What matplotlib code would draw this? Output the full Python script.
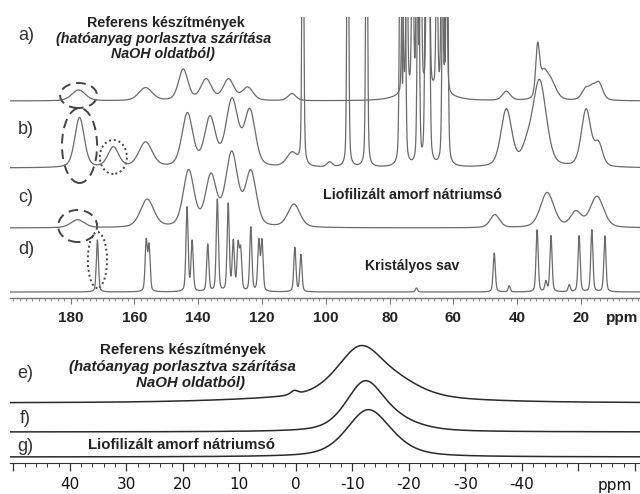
import numpy as np
import matplotlib
matplotlib.use("Agg")
import matplotlib.pyplot as plt
from matplotlib.patches import Ellipse
from matplotlib.ticker import MultipleLocator, FuncFormatter

plt.rcParams['axes.unicode_minus'] = False

# ---------------------------------------------------------------------------
# 13C CP/MAS spectra: peak tables (centre in ppm, height, full width at half height in ppm)
# ---------------------------------------------------------------------------
A_PPM = [177.5, 156.5, 144.7, 137.5, 130.5, 124.5, 110.6,
         76.0, 74.6, 72.8, 71.4, 70.2, 68.3, 67.5, 65.2, 63.6, 62.2, 69.0,
         43.4, 33.6, 31.8, 29.5, 18.4, 16.5, 14.5]
A_HEIGHT = [11, 13, 31, 21, 21, 13, 7,
            120, 180, 220, 200, 170, 200, 120, 160, 220, 180, 12,
            9, 48, 22, 18, 12, 7, 18]
A_WIDTH = [5, 5, 3.5, 4, 4, 4, 3,
           0.6, 0.6, 0.6, 0.6, 0.6, 0.6, 0.6, 0.6, 0.6, 0.6, 14,
           3, 1.4, 3, 4, 3, 2, 3]

B_PPM = [177.2, 166.6, 156.5, 143.4, 136.3, 129.4, 123.8, 110.6,
         107.2, 98.8, 93.1, 87.2,
         76.6, 75.3, 71.0, 68.6, 67.7, 63.2, 62.0,
         43.4, 37.0, 33.0, 18.4, 14.5]
B_HEIGHT = [50, 20, 25, 53, 48, 66, 55, 14,
            400, 5, 400, 400,
            300, 300, 300, 300, 300, 300, 300,
            57, 14, 86, 57, 22]
B_WIDTH = [3.5, 4, 5, 4, 4, 4.5, 4, 4,
           0.6, 2, 0.6, 0.6,
           0.7, 0.7, 0.7, 0.7, 0.7, 0.7, 0.7,
           4, 4, 5, 3.5, 3]

C_PPM = [177.8, 156.0, 143.0, 136.0, 129.5, 123.5, 110.0,
         47.0, 30.6, 21.6, 15.0]
C_HEIGHT = [8, 28, 56, 50, 73, 54, 23,
            13, 35, 15, 31]
C_WIDTH = [5, 5, 4, 4, 4.5, 4, 4.5,
           3.5, 5, 4, 5]

D_PPM = [171.6, 156.3, 155.4, 143.5, 141.9, 137.0, 134.0, 130.6, 129.0,
         127.5, 126.7, 123.5, 121.0, 120.0, 109.7, 107.8, 71.6,
         47.2, 42.5, 33.75, 31.0, 29.4, 23.7, 20.6, 16.6, 12.5]
D_HEIGHT = [52, 50, 45, 84, 50, 47, 92, 87, 49,
            45, 40, 64, 50, 50, 44, 37, 4,
            39, 6, 62, 10, 56, 7, 56, 62, 56]
D_WIDTH = [0.8] * len(D_PPM)

# 23Na MAS spectra: same table layout
E_PPM = [-11.5, -19.0, -8.0, 0.3]
E_HEIGHT = [50, 10, 5, 4]
E_WIDTH = [10, 10, 40, 1.5]

F_PPM = [-12.2, -18.0]
F_HEIGHT = [48, 8]
F_WIDTH = [8, 10]

G_PPM = [-12.7, -17.0]
G_HEIGHT = [45, 4]
G_WIDTH = [9, 10]

TOP_TICKS = [180, 160, 140, 120, 100, 80, 60, 40, 20]
BOTTOM_TICKS = [40, 30, 20, 10, 0, -10, -20, -30, -40]

LORENTZ_FRACTION = 0.35


def lineshape(x, centres, heights, widths, eta=LORENTZ_FRACTION):
    y = np.zeros_like(x)
    for c, h, w in zip(centres, heights, widths):
        u = (x - c) / w
        gauss = np.exp(-4 * np.log(2) * u ** 2)
        lorentz = 1.0 / (1.0 + 4 * u ** 2)
        y += h * (eta * lorentz + (1 - eta) * gauss)
    return y


W, H = 640, 494


def fx(px):
    return px / W


def fy(py):
    return 1 - py / H


fig = plt.figure(figsize=(6.4, 4.94), dpi=100, facecolor='white')

top_font = dict(family='Liberation Sans', weight='bold', color='#222222')
label_font = dict(family='Liberation Sans', color='#333333')

# ---------------- upper panel: 13C ----------------
ax1 = fig.add_axes([fx(10), fy(298), fx(630), (298 - 17) / H])
x1 = np.linspace(199, 1.5, 10000)
trace_color = '#6b6b6b'
for offs, (p, h, w) in zip([197, 130, 70, 6],
                           [(A_PPM, A_HEIGHT, A_WIDTH), (B_PPM, B_HEIGHT, B_WIDTH),
                            (C_PPM, C_HEIGHT, C_WIDTH), (D_PPM, D_HEIGHT, D_WIDTH)]):
    ax1.plot(x1, offs + lineshape(x1, p, h, w), color=trace_color, lw=0.9)

ax1.set_xlim(199, 1.5)
ax1.set_ylim(0, 281)
for s in ['top', 'left', 'right']:
    ax1.spines[s].set_visible(False)
ax1.spines['bottom'].set_color('#777777')
ax1.spines['bottom'].set_linewidth(1.0)
ax1.set_yticks([])
ax1.set_xticks(TOP_TICKS)
ax1.set_xticklabels([str(t) for t in TOP_TICKS])
ax1.xaxis.set_minor_locator(MultipleLocator(2))
ax1.tick_params(axis='x', which='major', length=4, width=0.8, color='#777777',
                pad=5, labelsize=11, labelcolor='#222222')
ax1.tick_params(axis='x', which='minor', length=2.5, width=0.6, color='#777777')
for lab in ax1.get_xticklabels():
    lab.set_fontfamily('Liberation Sans')
    lab.set_fontweight('bold')

ellipses = [
    ((177.5, 202.5), 11.6, 25, (0, (5, 3))),
    ((177.2, 152.5), 11.0, 75, (0, (5, 3))),
    ((166.6, 141.0), 8.5, 34, (0, (1, 1.5))),
    ((177.8, 72.0), 12.2, 32, (0, (5, 3))),
    ((171.6, 38.0), 6.0, 56, (0, (1, 1.5))),
]
for centre, ew, eh, ls in ellipses:
    ax1.add_patch(Ellipse(centre, ew, eh, fill=False, ec='#444444', lw=1.4,
                          ls=ls, clip_on=False))

fig.text(fx(622), fy(318), 'ppm', ha='center', va='center', fontsize=11, **top_font)

# ---------------- lower panel: 23Na ----------------
ax2 = fig.add_axes([fx(10), fy(463), fx(630), (463 - 330) / H])
x2 = np.linspace(50.6, -60.9, 3000)
for offs, (p, h, w) in zip([60, 31, 6],
                           [(E_PPM, E_HEIGHT, E_WIDTH), (F_PPM, F_HEIGHT, F_WIDTH),
                            (G_PPM, G_HEIGHT, G_WIDTH)]):
    ax2.plot(x2, offs + lineshape(x2, p, h, w, eta=0.45), color='#2a2a2a', lw=1.1)

ax2.set_xlim(50.6, -60.9)
ax2.set_ylim(0, 133)
for s in ['top', 'left', 'right']:
    ax2.spines[s].set_visible(False)
ax2.spines['bottom'].set_color('#333333')
ax2.set_yticks([])
ax2.xaxis.set_major_locator(MultipleLocator(10))
ax2.xaxis.set_minor_locator(MultipleLocator(2))
ax2.xaxis.set_major_formatter(FuncFormatter(
    lambda v, pos: str(int(round(v))) if int(round(v)) in BOTTOM_TICKS else ''))
ax2.tick_params(axis='x', which='major', length=6, width=0.9, color='#333333',
                pad=4, labelsize=11, labelcolor='#111111')
ax2.tick_params(axis='x', which='minor', length=3, width=0.7, color='#333333')
for lab in ax2.get_xticklabels():
    lab.set_fontfamily('DejaVu Sans')

fig.text(fx(615), fy(485), 'ppm', ha='center', va='center', fontsize=11,
         family='DejaVu Sans', color='#111111')

# ---------------- labels ----------------
for txt, py in [('a)', 35), ('b)', 130), ('c)', 197), ('d)', 250)]:
    fig.text(fx(26), fy(py), txt, ha='center', va='center', fontsize=13, **label_font)
for txt, py in [('e)', 373), ('f)', 418), ('g)', 446)]:
    fig.text(fx(25), fy(py), txt, ha='center', va='center', fontsize=13, **label_font)

fig.text(fx(166), fy(23), 'Referens készítmények', ha='center', va='center',
         fontsize=10.3, **top_font)
fig.text(fx(164), fy(39), '(hatóanyag porlasztva szárítása', ha='center', va='center',
         fontsize=10.3, style='italic', **top_font)
fig.text(fx(163), fy(54), 'NaOH oldatból)', ha='center', va='center',
         fontsize=10.3, style='italic', **top_font)
fig.text(fx(412), fy(195), 'Liofilizált amorf nátriumsó', ha='center', va='center',
         fontsize=10.3, **top_font)
fig.text(fx(412), fy(266), 'Kristályos sav', ha='center', va='center',
         fontsize=10.0, **top_font)

fig.text(fx(183), fy(350), 'Referens készítmények', ha='center', va='center',
         fontsize=10.8, **top_font)
fig.text(fx(182), fy(367), '(hatóanyag porlasztva szárítása', ha='center', va='center',
         fontsize=10.8, style='italic', **top_font)
fig.text(fx(190), fy(383), 'NaOH oldatból)', ha='center', va='center',
         fontsize=10.8, style='italic', **top_font)
fig.text(fx(182), fy(445), 'Liofilizált amorf nátriumsó', ha='center', va='center',
         fontsize=10.8, **top_font)

fig.savefig('out.png', dpi=100, facecolor='white')
